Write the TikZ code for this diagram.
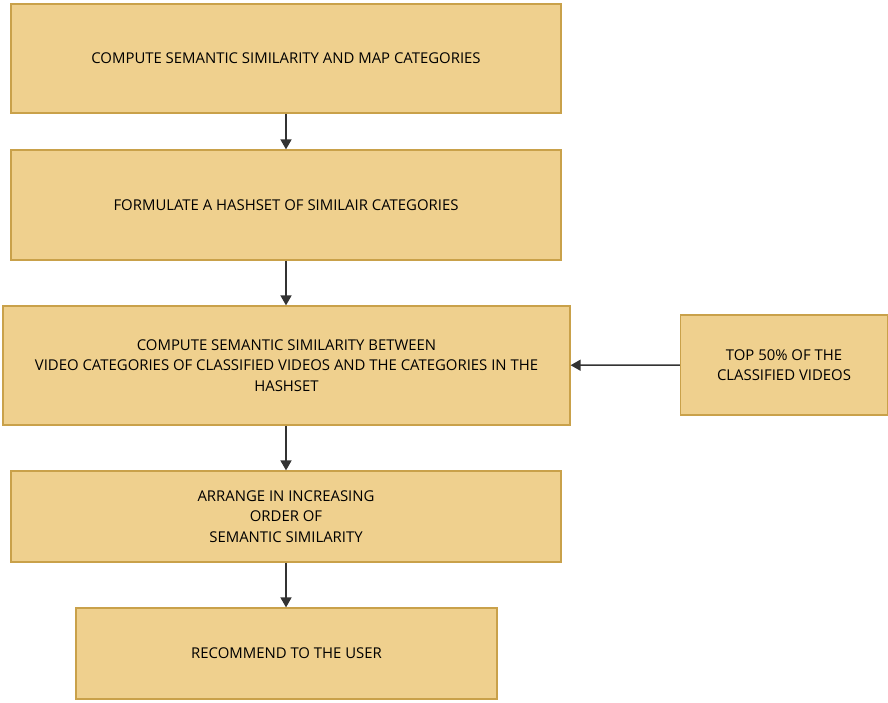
\documentclass[tikz,border=0pt]{standalone}
\usepackage{fontspec}
\setmainfont{Open Sans}
\usetikzlibrary{arrows.meta}
\definecolor{boxfill}{RGB}{239,208,142}
\definecolor{boxline}{RGB}{201,161,74}
\definecolor{arrowgray}{RGB}{51,51,51}
\begin{document}
\begin{tikzpicture}[x=1pt,y=-1pt,
    stepbox/.style={rectangle,draw=boxline,fill=boxfill,line width=1.2pt,align=center,
        inner sep=0pt,font=\fontsize{14.9}{20.3}\selectfont},
    flow/.style={draw=arrowgray,line width=1.5pt,-{Triangle[width=11pt,length=10pt]}}]
    \useasboundingbox (0,0) rectangle (888,702);
    \draw (286,58.5) node[stepbox,minimum width=550pt,minimum height=109pt](map){COMPUTE SEMANTIC SIMILARITY AND MAP CATEGORIES};
    \draw (286,205) node[stepbox,minimum width=550pt,minimum height=110pt](hash){FORMULATE A HASHSET OF SIMILAIR CATEGORIES};
    \draw (286.5,365.5) node[stepbox,minimum width=567pt,minimum height=119pt](sim){COMPUTE SEMANTIC SIMILARITY BETWEEN\\VIDEO CATEGORIES OF CLASSIFIED VIDEOS AND THE CATEGORIES IN THE\\HASHSET};
    \draw (286,516.5) node[stepbox,minimum width=550pt,minimum height=91pt](order){ARRANGE IN INCREASING\\ORDER OF\\SEMANTIC SIMILARITY};
    \draw (286.5,653.5) node[stepbox,minimum width=421pt,minimum height=91pt](user){RECOMMEND TO THE USER};
    \draw (784,365) node[stepbox,minimum width=207pt,minimum height=100pt](top){TOP 50\% OF THE\\CLASSIFIED VIDEOS};
    \path[flow] (map) -- (hash);
    \path[flow] (hash.south) -- (hash.south |- sim.north);
    \path[flow] (order.north |- sim.south) -- (order.north);
    \path[flow] (order.south) -- (order.south |- user.north);
    \path[flow] (top) -- (sim);
\end{tikzpicture}
\end{document}
